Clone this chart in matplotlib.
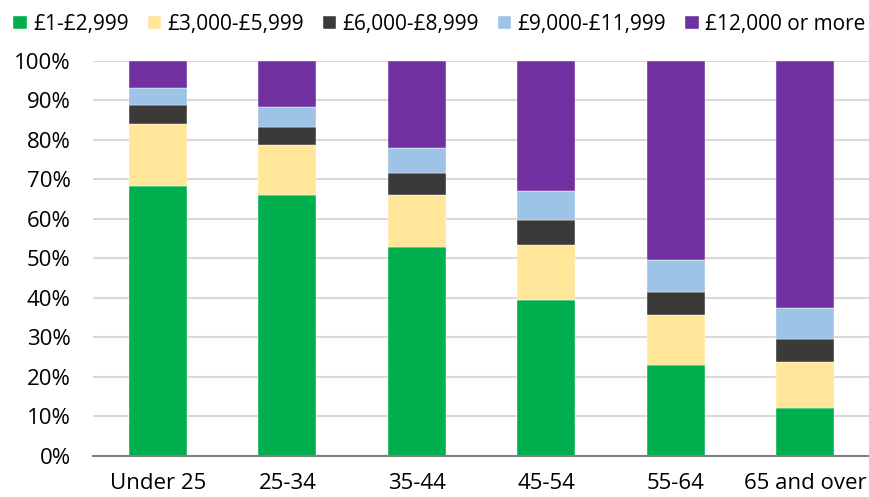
import numpy as np
import matplotlib.pyplot as plt

plt.rcParams['font.family'] = ['Open Sans', 'DejaVu Sans']

groups = ["Under 25", "25-34", "35-44", "45-54", "55-64", "65 and over"]
labels = ["£1-£2,999", "£3,000-£5,999", "£6,000-£8,999", "£9,000-£11,999", "£12,000 or more"]
colors = ["#00AE4D", "#FFE699", "#3B3A39", "#9DC3E6", "#7030A0"]

# cumulative tops (%)
band1 = [68.4, 65.9, 52.8, 39.5, 22.9, 12.1]
band2 = [83.9, 78.6, 66.0, 53.3, 35.7, 23.9]
band3 = [88.7, 83.3, 71.7, 59.8, 41.6, 29.7]
band4 = [93.2, 88.3, 77.9, 67.1, 49.7, 37.5]
band5 = [100, 100, 100, 100, 100, 100]

tops = np.array([band1, band2, band3, band4, band5])
bottoms = np.vstack([np.zeros(len(groups)), tops[:-1]])
heights = tops - bottoms

fig = plt.figure(figsize=(8.7, 4.97), dpi=100)
ax = fig.add_axes([0.107, 0.0825, 0.893, 0.7955])

x = np.arange(len(groups))
for i in range(len(labels)):
    ax.bar(x, heights[i], bottom=bottoms[i], width=0.45, color=colors[i],
           label=labels[i], zorder=3, edgecolor="white", linewidth=0.3)

ax.set_xlim(-0.5, len(groups) - 0.5)
ax.set_ylim(0, 100)
ax.set_yticks(np.arange(0, 101, 10))
ax.set_yticklabels([f"{v}%" for v in range(0, 101, 10)])
ax.set_xticks(x)
ax.set_xticklabels(groups)
ax.yaxis.grid(True, color="#D9D9D9", linewidth=1.5, zorder=0)
ax.tick_params(axis="both", length=0, labelsize=16, colors="#000000")
ax.tick_params(axis="y", pad=16)
ax.tick_params(axis="x", pad=12)
for s in ["top", "right", "left"]:
    ax.spines[s].set_visible(False)
ax.spines["bottom"].set_color("#7F7F7F")
ax.spines["bottom"].set_linewidth(1.5)
ax.spines["bottom"].set_zorder(4)

fig.legend(loc="upper center", bbox_to_anchor=(0.505, 1.01), ncol=5, frameon=False,
           fontsize=15, handlelength=0.65, handleheight=0.65, handletextpad=0.3,
           columnspacing=0.9)

fig.savefig("out.png", dpi=100)
